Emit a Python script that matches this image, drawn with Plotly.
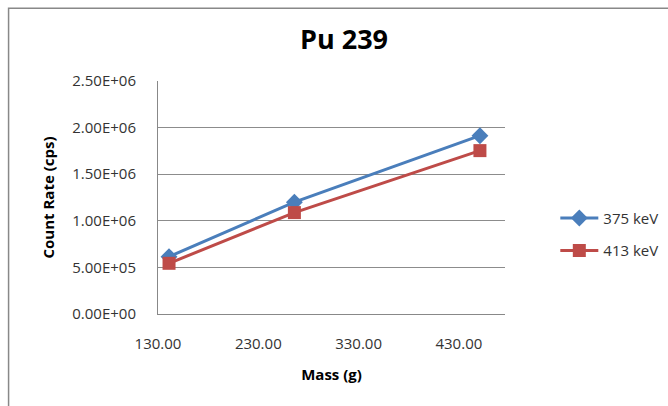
import plotly.graph_objects as go

mass = [141, 266, 451]
rate_375 = [615000, 1200000, 1913000]
rate_413 = [544000, 1088000, 1753000]
x_ticks = [130, 230, 330, 430]
x_tick_labels = ["130.00", "230.00", "330.00", "430.00"]
y_ticks = [0, 500000, 1000000, 1500000, 2000000, 2500000]
y_tick_labels = ["0.00E+00", "5.00E+05", "1.00E+06", "1.50E+06", "2.00E+06", "2.50E+06"]

FONT = "Open Sans"
fig = go.Figure()
fig.add_trace(go.Scatter(
    x=mass, y=rate_375, name="375 keV", mode="lines+markers",
    line=dict(color="#4A7EBB", width=3),
    marker=dict(symbol="diamond", size=13, color="#4A7EBB"),
    legendgroup="a"))
fig.add_trace(go.Scatter(
    x=mass, y=rate_413, name="413 keV", mode="lines+markers",
    line=dict(color="#BE4B48", width=3),
    marker=dict(symbol="square", size=13, color="#BE4B48"),
    legendgroup="b"))

fig.update_layout(
    width=668, height=406,
    margin=dict(l=158, r=163, t=81, b=92, autoexpand=False),
    paper_bgcolor="white", plot_bgcolor="white",
    font=dict(family=FONT, color="#333333"),
    title=dict(text="<b>Pu 239</b>", x=(344) / 668, xanchor="center",
               y=1 - 40 / 406, yanchor="middle",
               font=dict(size=27, color="black", family=FONT)),
    xaxis=dict(range=[130, 476], tickvals=x_ticks, ticktext=x_tick_labels,
               showgrid=False, zeroline=False, showline=True, linecolor="#888888",
               linewidth=1, ticks="", ticklabelstandoff=16,
               tickfont=dict(size=15, color="#333333"),
               title=dict(text="<b>Mass (g)</b>", font=dict(size=15, color="black"),
                          standoff=17)),
    yaxis=dict(range=[0, 2500000], tickvals=y_ticks, ticktext=y_tick_labels,
               showgrid=True, gridcolor="#8C8C8C", gridwidth=1, zeroline=False,
               showline=True, linecolor="#888888", linewidth=1, ticks="",
               ticklabelstandoff=18,
               tickfont=dict(size=15, color="#333333"),
               title=dict(text="<b>Count Rate (cps)</b>", font=dict(size=15, color="black"),
                          standoff=14)),
    legend=dict(x=1.145, y=0.342, xanchor="left", yanchor="middle",
                font=dict(size=15, color="#333333"), tracegroupgap=10,
                itemwidth=38, bgcolor="rgba(0,0,0,0)"),
    showlegend=True,
)
fig.add_shape(type="rect", xref="paper", yref="paper",
              x0=-0.4306, x1=1.5, y0=-0.45, y1=1.312,
              line=dict(color="#888888", width=1.5), layer="below")

fig.write_html("out.html")
